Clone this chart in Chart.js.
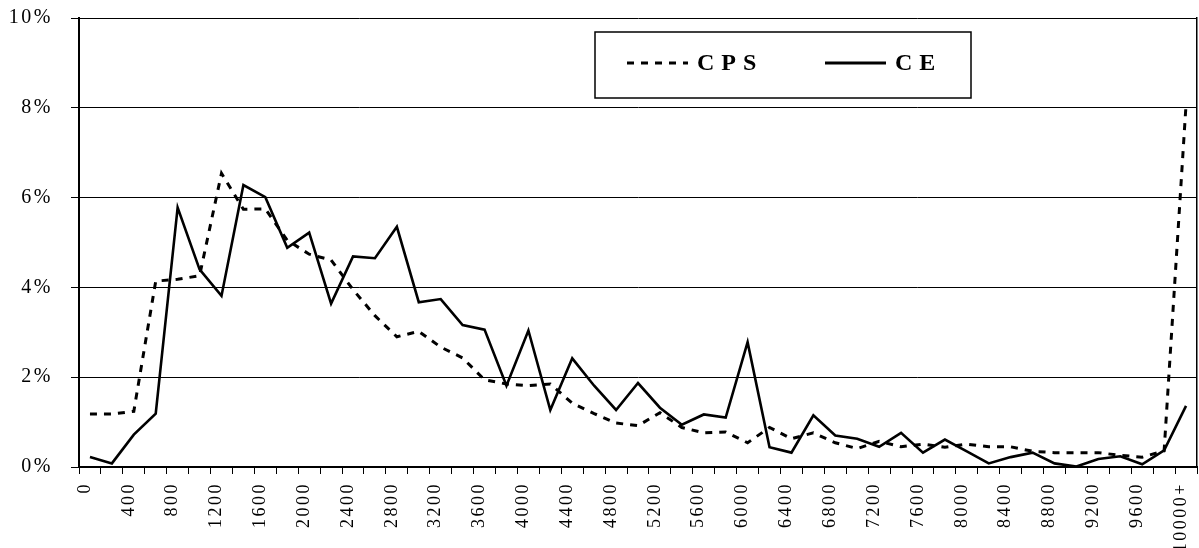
<!DOCTYPE html>
<html>
<head>
<meta charset="utf-8">
<script src="https://cdn.jsdelivr.net/npm/chart.js@4.4.0/dist/chart.umd.min.js"></script>
<style>
  html, body { margin: 0; padding: 0; background: #fff; }
  #wrap { width: 1199px; height: 548px; }
</style>
</head>
<body>
<div id="wrap"><canvas id="grafico" width="1199" height="548"></canvas></div>
<script>
// categorias do eixo X (intervalos de 200)
const categorias = ['0', '200', '400', '600', '800', '1000', '1200', '1400', '1600', '1800',
    '2000', '2200', '2400', '2600', '2800', '3000', '3200', '3400', '3600', '3800',
    '4000', '4200', '4400', '4600', '4800', '5000', '5200', '5400', '5600', '5800',
    '6000', '6200', '6400', '6600', '6800', '7000', '7200', '7400', '7600', '7800',
    '8000', '8200', '8400', '8600', '8800', '9000', '9200', '9400', '9600', '9800',
    '10000+'];

// valores em %
const valoresCPS = [1.18, 1.18, 1.24, 4.14, 4.18, 4.26, 6.54, 5.74, 5.75, 5.05,
    4.74, 4.61, 3.95, 3.37, 2.90, 3.02, 2.67, 2.43, 1.94, 1.85,
    1.81, 1.85, 1.42, 1.19, 0.98, 0.92, 1.21, 0.88, 0.76, 0.78,
    0.54, 0.88, 0.63, 0.76, 0.54, 0.41, 0.57, 0.45, 0.51, 0.44,
    0.51, 0.45, 0.45, 0.35, 0.32, 0.32, 0.32, 0.26, 0.22, 0.36,
    8.07];
const valoresCE = [0.22, 0.08, 0.72, 1.19, 5.78, 4.40, 3.81, 6.28, 6.01, 4.88,
    5.22, 3.64, 4.69, 4.65, 5.35, 3.67, 3.74, 3.16, 3.06, 1.81,
    3.04, 1.27, 2.42, 1.81, 1.27, 1.87, 1.32, 0.94, 1.17, 1.10,
    2.78, 0.44, 0.32, 1.15, 0.70, 0.63, 0.45, 0.76, 0.32, 0.61,
    0.35, 0.08, 0.22, 0.32, 0.08, 0.01, 0.18, 0.24, 0.06, 0.37,
    1.36];

// eixo Y: 0% a 10%, passo 2
const yMin = 0;
const yMax = 10;
const yPasso = 2;

const fonteSerif = "'Liberation Serif', 'Times New Roman', serif";

// espaçamento entre letras, como no original
const espacamento = {
    id: 'espacamento',
    beforeLayout(chart) { chart.ctx.letterSpacing = '2.5px'; },
    beforeDraw(chart) { chart.ctx.letterSpacing = '2.5px'; }
};

// legenda desenhada dentro da área do gráfico
const legendaCaixa = {
    id: 'legendaCaixa',
    afterDraw(chart, args, opts) {
        const ctx = chart.ctx;
        ctx.save();
        ctx.strokeStyle = '#000';
        ctx.lineWidth = 1.5;
        ctx.strokeRect(opts.left, opts.top, opts.right - opts.left, opts.bottom - opts.top);
        const yMeio = (opts.top + opts.bottom) / 2 - 2;
        ctx.font = 'bold 24px ' + fonteSerif;
        ctx.letterSpacing = '7px';
        ctx.textBaseline = 'middle';
        ctx.textAlign = 'left';
        chart.data.datasets.forEach((ds, i) => {
            const x0 = opts.itens[i];
            ctx.beginPath();
            ctx.setLineDash(ds.borderDash || []);
            ctx.lineWidth = 3;
            ctx.moveTo(x0, yMeio);
            ctx.lineTo(x0 + 61, yMeio);
            ctx.stroke();
            ctx.setLineDash([]);
            ctx.fillStyle = '#000';
            ctx.fillText(ds.label, x0 + 70, yMeio + 1);
        });
        ctx.restore();
    }
};

// sem folgas extras calculadas pelos rótulos
function semFolga(escala) {
    escala.paddingLeft = 0;
    escala.paddingRight = 0;
    escala.paddingTop = 0;
    escala.paddingBottom = 0;
}

const ctx = document.getElementById('grafico');
new Chart(ctx, {
    type: 'line',
    data: {
        labels: categorias,
        datasets: [{
            label: 'CPS',
            data: valoresCPS,
            borderColor: '#000',
            borderWidth: 3,
            borderDash: [7, 7],
            pointRadius: 0,
            tension: 0,
            fill: false
        }, {
            label: 'CE',
            data: valoresCE,
            borderColor: '#000',
            borderWidth: 2.6,
            pointRadius: 0,
            tension: 0,
            fill: false
        }]
    },
    options: {
        responsive: false,
        devicePixelRatio: 1,
        animation: false,
        layout: { padding: { top: 18, right: 2, left: 0, bottom: 0 } },
        plugins: {
            legend: { display: false },
            tooltip: { enabled: false },
            legendaCaixa: { left: 595, top: 32, right: 971, bottom: 98, itens: [627, 825] }
        },
        scales: {
            x: {
                type: 'category',
                offset: true,
                grid: {
                    offset: true,
                    drawOnChartArea: false,
                    drawTicks: true,
                    tickLength: 7,
                    color: '#000',
                    lineWidth: 1
                },
                border: { color: '#000', width: 2 },
                ticks: {
                    autoSkip: false,
                    minRotation: 90,
                    maxRotation: 90,
                    padding: 8,
                    labelOffset: -5,
                    color: '#000',
                    font: { family: fonteSerif, size: 18 },
                    callback: function(valor, indice) {
                        return indice % 2 === 0 ? categorias[indice] : '';
                    }
                },
                afterFit: function(escala) { escala.height = 81; semFolga(escala); }
            },
            y: {
                min: yMin,
                max: yMax,
                grid: {
                    color: '#000',
                    lineWidth: 1,
                    drawTicks: true,
                    tickLength: 8
                },
                border: { color: '#000', width: 2 },
                ticks: {
                    stepSize: yPasso,
                    padding: 18,
                    color: '#000',
                    font: { family: fonteSerif, size: 20 },
                    callback: function(valor) { return valor + '%'; }
                },
                afterFit: function(escala) { escala.width = 79; semFolga(escala); }
            },
            y2: {
                position: 'right',
                min: yMin,
                max: yMax,
                grid: { drawOnChartArea: false, drawTicks: false },
                border: { color: '#000', width: 1.5 },
                ticks: { display: false },
                afterFit: function(escala) { escala.width = 0; semFolga(escala); }
            }
        }
    },
    plugins: [espacamento, legendaCaixa]
});
</script>
</body>
</html>
